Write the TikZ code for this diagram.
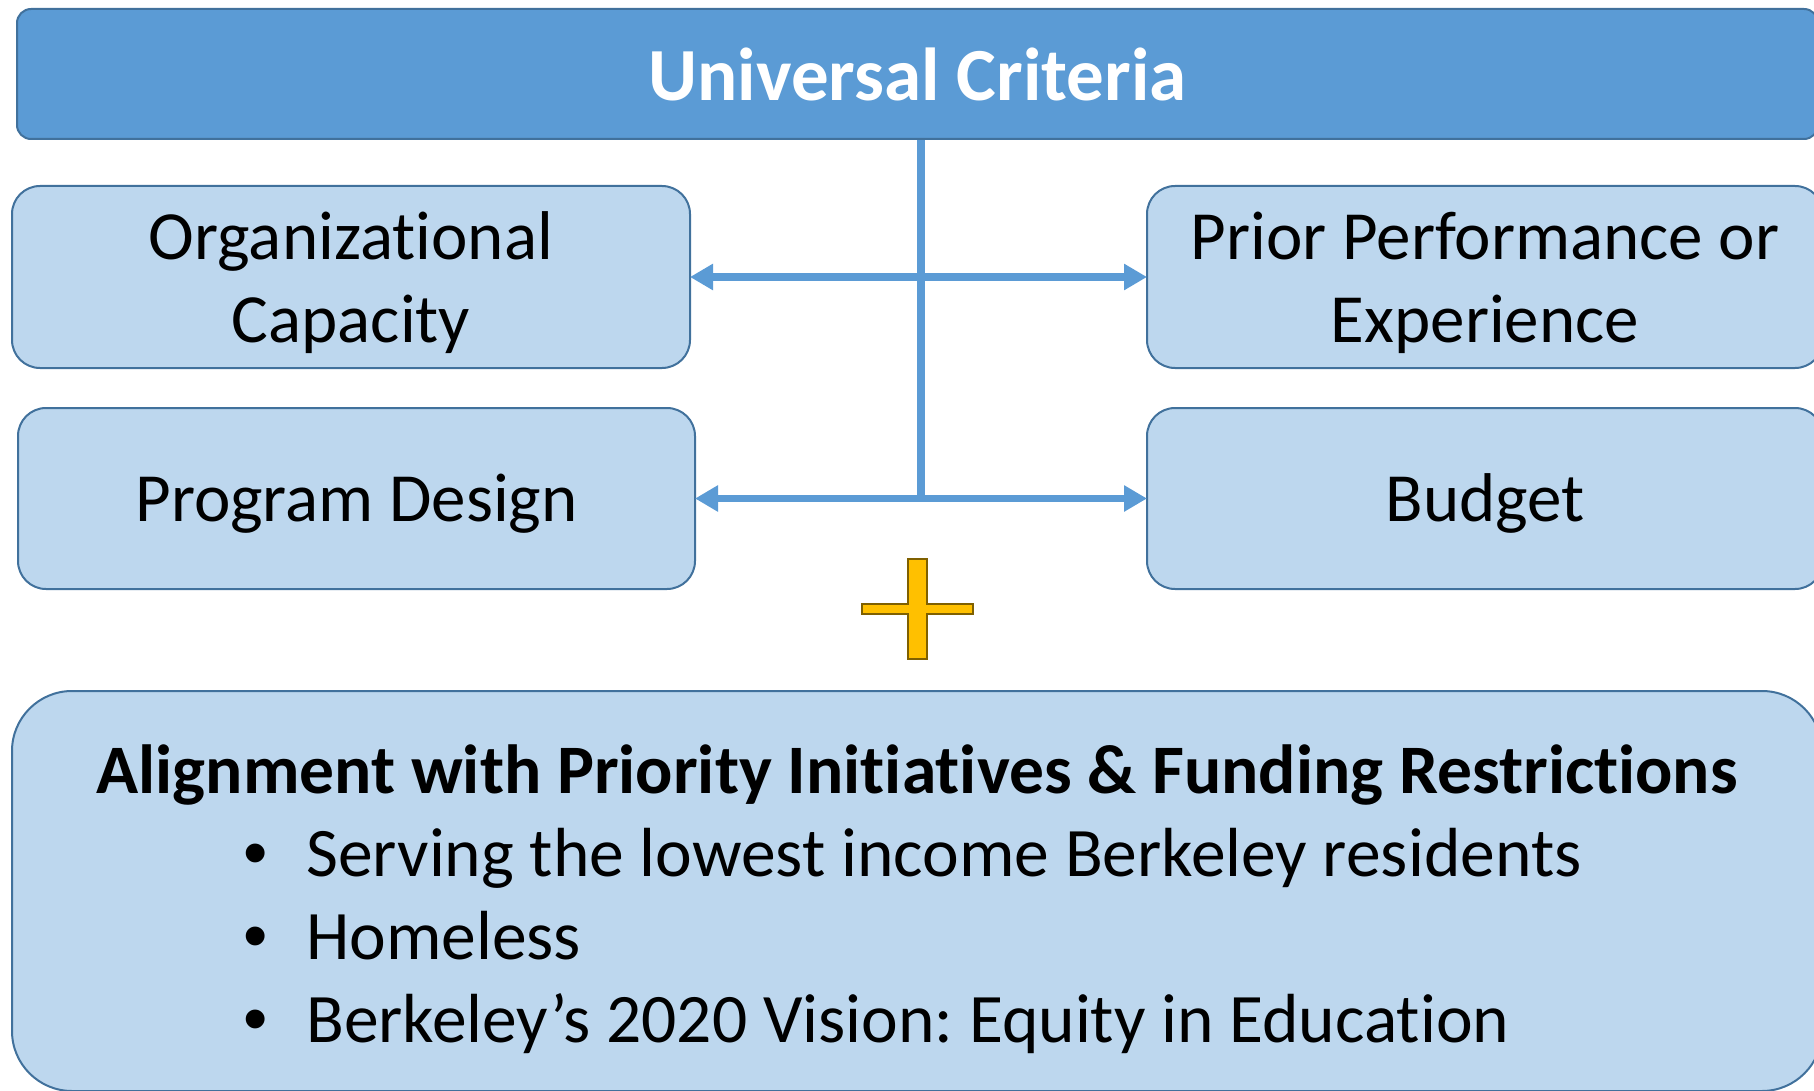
\documentclass[tikz,border=0pt]{standalone}
\usepackage{fontspec}
\setmainfont{Carlito}[Ligatures=NoCommon]
\newfontfamily\bulletfont{Liberation Sans}
\usetikzlibrary{arrows.meta}
\frenchspacing
\definecolor{topfill}{HTML}{5B9BD5}
\definecolor{edgeblue}{HTML}{41719C}
\definecolor{boxfill}{HTML}{BDD7EE}
\definecolor{arrowblue}{HTML}{5B9BD5}
\definecolor{plusfill}{HTML}{FFC000}
\definecolor{plusedge}{HTML}{7F6000}
\begin{document}
\begin{tikzpicture}[x=1pt,y=-1pt,
  critbox/.style={draw=edgeblue, fill=boxfill, line width=2pt, rounded corners=28pt,
    inner sep=0pt, align=center, minimum height=182pt,
    font=\fontsize{69}{83}\selectfont, text height=60pt, text depth=14pt},
  twoline/.style={text height=144pt, text depth=14pt},
  headbar/.style={draw=edgeblue, fill=topfill, line width=2pt, rounded corners=14pt,
    inner sep=0pt, text=white, minimum height=130pt,
    font=\fontsize{75}{88}\selectfont\bfseries},
  bigbox/.style={draw=edgeblue, fill=boxfill, line width=2pt, rounded corners=60pt,
    inner sep=0pt},
  bodytext/.style={inner sep=0pt, font=\fontsize{69.5}{83}\selectfont},
  bulletmark/.style={inner sep=0pt, font=\fontsize{69.5}{83}\bulletfont},
  link/.style={draw=arrowblue, line width=7.5pt},
  linkarrow/.style={link, -{Triangle[length=23pt,width=25pt]}, shorten >=-1pt},
]
\useasboundingbox (0,0) rectangle (1814,1091);

% header
\node[headbar, minimum width=1801pt] (top) at (917.5,74) {Universal Criteria};

% criteria boxes
\node[critbox, twoline, minimum width=678pt] (org) at (351,277) {Organizational\\Capacity};
\node[critbox, twoline, minimum width=676pt] (prior) at (1485,277) {Prior Performance or\\Experience};
\node[critbox, minimum width=677pt, minimum height=181pt] (design) at (356.5,498.5) {Program Design};
\node[critbox, minimum width=676pt, minimum height=181pt] (budget) at (1485,498.5) {Budget};

% connectors
\coordinate (jtop) at (921,277);
\coordinate (jlow) at (921,498.5);
\draw[link] (top.south -| jlow) -- ([yshift=3.75pt]jlow);
\draw[linkarrow] (jtop) -- (org.east |- jtop);
\draw[linkarrow] (jtop) -- (prior.west |- jtop);
\draw[linkarrow] ([xshift=3.75pt]jlow) -- (design.east |- jlow);
\draw[linkarrow] ([xshift=-3.75pt]jlow) -- (budget.west |- jlow);

% plus sign
\draw[fill=plusfill, draw=plusedge, line width=2pt]
  (908,559) -- (927,559) -- (927,604) -- (973,604) -- (973,614) -- (927,614)
  -- (927,659) -- (908,659) -- (908,614) -- (862,614) -- (862,604) -- (908,604) -- cycle;

% bottom box
\node[bigbox, minimum width=1810pt, minimum height=400pt] (align) at (917,891) {};
\node[bodytext, anchor=base, font=\fontsize{69.5}{83}\selectfont\bfseries] (head) at (917,793)
  {Alignment with Priority Initiatives \& Funding Restrictions};
\node[bulletmark, anchor=base] (b1) at (256,876) {•};
\node[bodytext, anchor=base west] (t1) at (306,876) {Serving the lowest income Berkeley residents};
\node[bulletmark, anchor=base] (b2) at (256,959) {•};
\node[bodytext, anchor=base west] (t2) at (306,959) {Homeless};
\node[bulletmark, anchor=base] (b3) at (256,1042) {•};
\node[bodytext, anchor=base west] (t3) at (306,1042) {Berkeley’s 2020 Vision: Equity in Education};
\end{tikzpicture}
\end{document}
